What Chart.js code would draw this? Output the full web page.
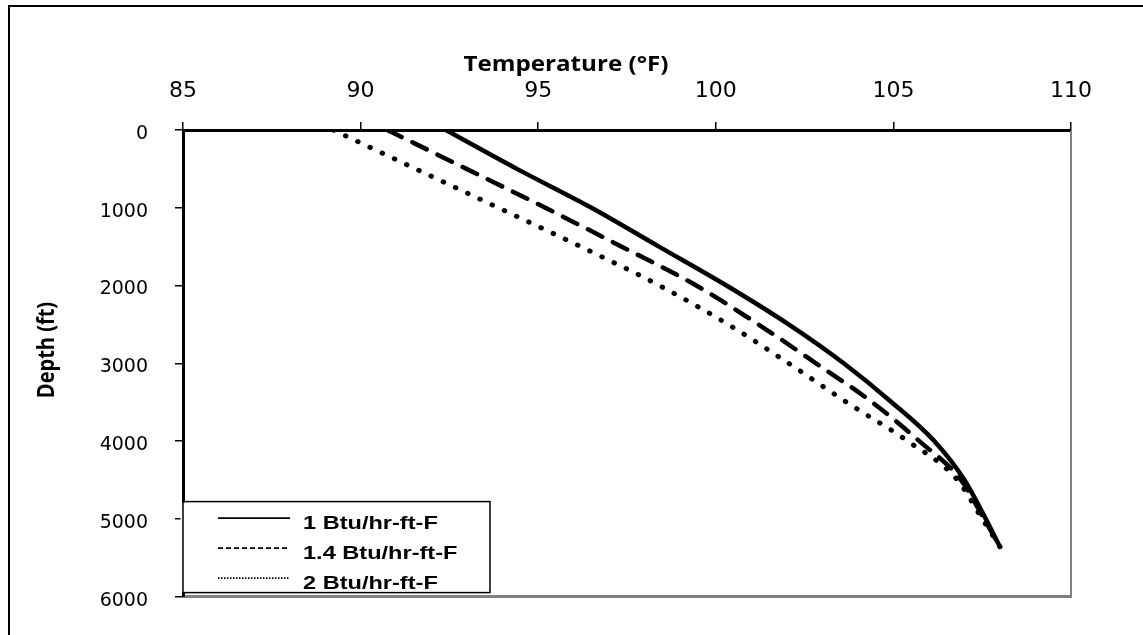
<!DOCTYPE html>
<html>
<head>
<meta charset="utf-8">
<script src="https://cdn.jsdelivr.net/npm/chart.js@4.4.1/dist/chart.umd.min.js"></script>
<style>
    html, body { margin: 0; padding: 0; background: #fff; }
    canvas { display: block; }
</style>
</head>
<body>
<canvas id="tempProfileChart" width="1143" height="635"></canvas>
<script>
// depth samples (ft) shared by the three profiles
const depths = [0, 500, 1000, 1500, 2000, 2500, 3000, 3500, 4000, 4500, 5000, 5360];
// fluid temperature (F) for each formation conductivity
const tempK1 = [92.4, 94.4, 96.5, 98.4, 100.3, 102.05, 103.6, 104.95, 106.15, 107.0, 107.6, 108.0];
const tempK14 = [90.75, 92.98, 95.2, 97.35, 99.45, 101.2, 102.82, 104.4, 105.73, 106.9, 107.55, 108.0];
const tempK2 = [89.23, 91.55, 93.88, 96.2, 98.41, 100.35, 102.05, 103.68, 105.4, 106.8, 107.5, 108.0];
const seriesLabels = ['1 Btu/hr-ft-F', '1.4 Btu/hr-ft-F', '2 Btu/hr-ft-F'];
const tempTicks = [85, 90, 95, 100, 105, 110];
const depthTicks = [0, 1000, 2000, 3000, 4000, 5000, 6000];

function toPoints(temps) {
    return temps.map((t, i) => ({ x: t, y: depths[i] }));
}

// page frame, plot border, axis titles and the boxed legend
const profileDecor = {
    id: 'profileDecor',
    beforeDraw(chart) {
        const ctx = chart.ctx;
        ctx.save();
        ctx.fillStyle = '#fff';
        ctx.fillRect(0, 0, chart.width, chart.height);
        ctx.strokeStyle = '#000';
        ctx.lineWidth = 2;
        ctx.beginPath();
        ctx.moveTo(9, chart.height);
        ctx.lineTo(9, 6);
        ctx.lineTo(chart.width, 6);
        ctx.stroke();
        ctx.restore();
    },
    beforeDatasetsDraw(chart) {
        const { ctx, chartArea: a } = chart;
        ctx.save();
        ctx.strokeStyle = '#808080';
        ctx.lineWidth = 2;
        ctx.beginPath();
        ctx.moveTo(a.right, a.top + 1);
        ctx.lineTo(a.right, a.bottom);
        ctx.stroke();
        ctx.lineWidth = 3;
        ctx.beginPath();
        ctx.moveTo(a.left + 2, a.bottom);
        ctx.lineTo(a.right + 1, a.bottom);
        ctx.stroke();
        ctx.restore();
    },
    afterDraw(chart) {
        const { ctx, chartArea: a } = chart;
        ctx.save();
        ctx.fillStyle = '#000';

        // x axis title
        ctx.save();
        ctx.translate(566, 70.5);
        ctx.scale(1.15, 1);
        ctx.font = 'bold 21px "Open Sans"';
        ctx.textAlign = 'center';
        ctx.textBaseline = 'alphabetic';
        ctx.fillText('Temperature (\u00B0F)', 0, 0);
        ctx.restore();

        // y axis title
        ctx.save();
        ctx.translate(54, 350);
        ctx.rotate(-Math.PI / 2);
        ctx.scale(1, 1.15);
        ctx.font = 'bold 20px "Open Sans"';
        ctx.textAlign = 'center';
        ctx.textBaseline = 'alphabetic';
        ctx.fillText('Depth (ft)', 0, 0);
        ctx.restore();

        // legend box, its fill hides the lower part of the thick axis line
        const box = { left: a.left, top: a.bottom - 95, right: 490, bottom: a.bottom - 4 };
        ctx.fillStyle = '#fff';
        ctx.fillRect(box.left - 2.5, box.top + 1, box.right - box.left + 2.5, box.bottom - box.top - 1);
        ctx.strokeStyle = '#000';
        ctx.lineWidth = 1.5;
        ctx.strokeRect(box.left, box.top, box.right - box.left, box.bottom - box.top);

        chart.data.datasets.forEach((ds, i) => {
            const base = box.top + 27 + i * 30;
            ctx.strokeStyle = '#000';
            ctx.lineWidth = 1.8;
            ctx.lineCap = 'butt';
            ctx.setLineDash(ds.legendDash);
            ctx.beginPath();
            ctx.moveTo(box.left + 35, base - 10.5);
            ctx.lineTo(box.left + 107, base - 10.5);
            ctx.stroke();
            ctx.setLineDash([]);

            ctx.save();
            ctx.translate(box.left + 120, base);
            ctx.scale(1.24, 1);
            ctx.fillStyle = '#000';
            ctx.font = 'bold 19px "Liberation Sans"';
            ctx.textAlign = 'left';
            ctx.textBaseline = 'alphabetic';
            ctx.fillText(ds.label, 0, 0);
            ctx.restore();
        });
        ctx.restore();
    }
};

const lineStyle = {
    borderColor: '#000',
    backgroundColor: '#000',
    borderWidth: 4.5,
    borderCapStyle: 'round',
    borderJoinStyle: 'round',
    pointRadius: 0,
    fill: false,
    cubicInterpolationMode: 'monotone'
};

const profileChart = new Chart(document.getElementById('tempProfileChart'), {
    type: 'line',
    data: {
        datasets: [
            { ...lineStyle, label: seriesLabels[0], data: toPoints(tempK1), borderDash: [], legendDash: [] },
            { ...lineStyle, label: seriesLabels[1], data: toPoints(tempK14), borderDash: [16, 12], legendDash: [5, 3] },
            { ...lineStyle, label: seriesLabels[2], data: toPoints(tempK2), borderWidth: 5, borderDash: [0.5, 13], legendDash: [1.5, 1.5] }
        ]
    },
    options: {
        responsive: false,
        animation: false,
        layout: { padding: { left: 0, top: 0, right: 72, bottom: 34 } },
        plugins: {
            legend: { display: false },
            tooltip: { enabled: false }
        },
        scales: {
            x: {
                type: 'linear',
                position: 'top',
                min: 85,
                max: 110,
                afterBuildTicks: s => { s.ticks = tempTicks.map(v => ({ value: v })); },
                afterFit: s => { s.height = 130; },
                border: { display: true, color: '#000', width: 3 },
                grid: { display: true, drawOnChartArea: false, drawTicks: true, tickLength: 8, color: '#000', lineWidth: 1.5 },
                ticks: {
                    color: '#000',
                    font: { family: 'DejaVu Sans', size: 22 },
                    padding: 18,
                    maxRotation: 0,
                    callback: v => String(v)
                }
            },
            y: {
                type: 'linear',
                reverse: true,
                min: 0,
                max: 6000,
                afterBuildTicks: s => { s.ticks = depthTicks.map(v => ({ value: v })); },
                afterFit: s => { s.width = 183; },
                border: { display: true, color: '#000', width: 3 },
                grid: { display: true, drawOnChartArea: false, drawTicks: true, tickLength: 8, color: '#000', lineWidth: 1.5 },
                ticks: {
                    color: '#000',
                    font: { family: 'DejaVu Sans', size: 19 },
                    padding: 27,
                    labelOffset: 4,
                    callback: v => String(v)
                }
            }
        }
    },
    plugins: [profileDecor]
});
</script>
</body>
</html>
